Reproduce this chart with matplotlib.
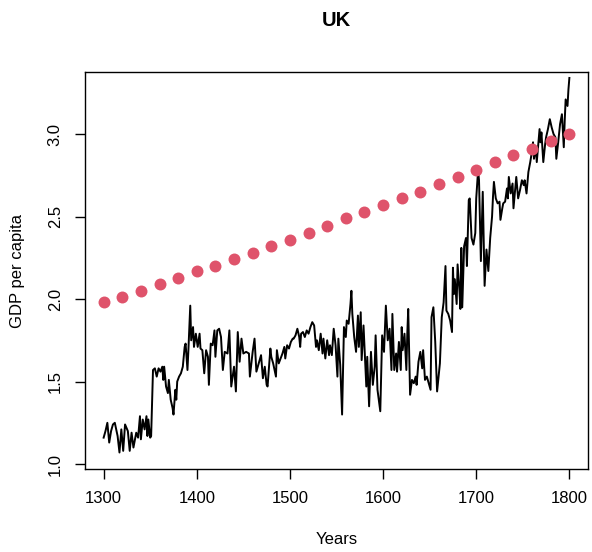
import matplotlib
matplotlib.use("Agg")
import matplotlib.pyplot as plt

# annual GDP per capita (irregular sampling of peaks/troughs)
years = [
    1300, 1302, 1304, 1306, 1308, 1310, 1312, 1315, 1317, 1319, 1321, 1323, 1326, 1328,
    1330, 1332, 1335, 1337, 1339, 1340, 1342, 1344, 1346, 1347, 1348, 1350, 1351, 1353,
    1355, 1357, 1359, 1361, 1363, 1364, 1365, 1367, 1369, 1370, 1372, 1374, 1375, 1377,
    1378, 1379, 1381, 1383, 1385, 1387, 1388, 1390, 1391, 1393, 1394, 1396, 1397, 1399,
    1401, 1403, 1404, 1406, 1408, 1410, 1412, 1413, 1415, 1417, 1419, 1420, 1422, 1424,
    1426, 1428, 1430, 1433, 1435, 1437, 1440, 1442, 1444, 1446, 1448, 1450, 1453, 1456,
    1457, 1460, 1462, 1464, 1467, 1469, 1471, 1473, 1475, 1476, 1479, 1480, 1482, 1485,
    1486, 1488, 1490, 1492, 1494, 1495, 1497, 1499, 1501, 1503, 1504, 1506, 1508, 1510,
    1511, 1512, 1514, 1516, 1518, 1520, 1522, 1524, 1526, 1528, 1529, 1531, 1533, 1535,
    1536, 1538, 1540, 1542, 1543, 1545, 1547, 1549, 1551, 1552, 1554, 1556, 1558, 1560,
    1561, 1563, 1565, 1566, 1567, 1569, 1571, 1573, 1574, 1576, 1577, 1579, 1582, 1583,
    1585, 1587, 1589, 1591, 1592, 1594, 1597, 1599, 1601, 1603, 1605, 1607, 1609, 1610,
    1612, 1614, 1615, 1617, 1619, 1620, 1621, 1623, 1625, 1626, 1627, 1629, 1631, 1633,
    1635, 1636, 1638, 1640, 1642, 1643, 1645, 1647, 1649, 1651, 1652, 1654, 1656, 1658,
    1661, 1663, 1665, 1667, 1668, 1670, 1672, 1674, 1675, 1676, 1677, 1679, 1680, 1682,
    1683, 1684, 1685, 1687, 1689, 1690, 1692, 1693, 1695, 1697, 1699, 1700, 1702, 1703,
    1705, 1707, 1709, 1711, 1713, 1715, 1717, 1718, 1719, 1721, 1723, 1725, 1726, 1728,
    1729, 1731, 1733, 1734, 1735, 1737, 1739, 1740, 1743, 1745, 1747, 1749, 1751, 1752,
    1754, 1756, 1758, 1760, 1761, 1762, 1764, 1765, 1768, 1769, 1770, 1772, 1774, 1775,
    1777, 1779, 1781, 1783, 1785, 1786, 1788, 1790, 1792, 1794, 1795, 1796, 1798, 1799,
    1800,
]
gdp = [
    1.16, 1.20, 1.25, 1.13, 1.20, 1.24, 1.25, 1.17, 1.07, 1.21, 1.08, 1.24, 1.20, 1.08,
    1.19, 1.10, 1.19, 1.16, 1.29, 1.15, 1.27, 1.21, 1.29, 1.17, 1.27, 1.16, 1.17, 1.57,
    1.58, 1.53, 1.58, 1.56, 1.59, 1.51, 1.59, 1.47, 1.43, 1.51, 1.39, 1.34, 1.30, 1.45,
    1.39, 1.50, 1.53, 1.55, 1.59, 1.71, 1.73, 1.57, 1.69, 1.96, 1.75, 1.83, 1.71, 1.79,
    1.71, 1.79, 1.70, 1.69, 1.55, 1.69, 1.65, 1.48, 1.73, 1.72, 1.81, 1.65, 1.81, 1.82,
    1.77, 1.57, 1.68, 1.67, 1.81, 1.47, 1.59, 1.44, 1.80, 1.62, 1.76, 1.67, 1.68, 1.67,
    1.53, 1.68, 1.76, 1.56, 1.62, 1.66, 1.52, 1.59, 1.48, 1.47, 1.70, 1.65, 1.61, 1.53,
    1.69, 1.61, 1.64, 1.67, 1.71, 1.64, 1.72, 1.70, 1.74, 1.76, 1.76, 1.78, 1.82, 1.77,
    1.71, 1.79, 1.80, 1.77, 1.81, 1.79, 1.83, 1.86, 1.84, 1.71, 1.75, 1.69, 1.79, 1.67,
    1.76, 1.64, 1.75, 1.66, 1.72, 1.66, 1.82, 1.72, 1.53, 1.76, 1.60, 1.30, 1.83, 1.77,
    1.87, 1.85, 1.97, 2.05, 1.91, 1.77, 1.68, 1.90, 1.71, 1.92, 1.63, 1.84, 1.47, 1.65,
    1.35, 1.68, 1.48, 1.59, 1.78, 1.45, 1.32, 1.78, 1.68, 1.96, 1.75, 1.82, 1.57, 1.91,
    1.57, 1.67, 1.56, 1.74, 1.57, 1.83, 1.69, 1.79, 1.57, 1.79, 1.94, 1.42, 1.51, 1.49,
    1.53, 1.48, 1.62, 1.68, 1.58, 1.69, 1.51, 1.53, 1.49, 1.45, 1.89, 1.95, 1.74, 1.44,
    1.61, 1.89, 1.98, 2.20, 1.93, 1.91, 1.87, 1.80, 2.19, 2.03, 2.12, 1.97, 2.21, 2.05,
    1.94, 2.31, 1.95, 2.32, 2.37, 2.20, 2.60, 2.61, 2.37, 2.33, 2.40, 2.61, 2.78, 2.72,
    2.23, 2.65, 2.08, 2.30, 2.17, 2.37, 2.50, 2.62, 2.71, 2.61, 2.58, 2.59, 2.48, 2.55,
    2.58, 2.59, 2.67, 2.61, 2.74, 2.64, 2.70, 2.55, 2.74, 2.61, 2.66, 2.72, 2.69, 2.72,
    2.64, 2.77, 2.83, 2.90, 2.95, 2.85, 2.92, 2.83, 3.03, 2.95, 3.01, 2.83, 2.94, 2.98,
    3.03, 3.09, 3.04, 3.00, 2.98, 2.85, 2.95, 3.06, 3.12, 2.92, 3.08, 3.21, 3.17, 3.27,
    3.34,
]

# red points every 20 years
dot_years = list(range(1300, 1801, 20))
dot_values = [
    1.98, 2.01, 2.05, 2.09, 2.13, 2.17, 2.20, 2.24, 2.28, 2.32, 2.36, 2.40, 2.44,
    2.49, 2.53, 2.57, 2.61, 2.65, 2.70, 2.74, 2.78, 2.83, 2.87, 2.91, 2.96, 3.00,
]

x_ticks = [1300, 1400, 1500, 1600, 1700, 1800]
y_ticks = [1.0, 1.5, 2.0, 2.5, 3.0]

plt.rcParams["font.family"] = ["Liberation Sans", "DejaVu Sans"]

W, H = 592, 552
fig = plt.figure(figsize=(W / 100, H / 100), dpi=100)
left, right, top, bottom = 85, 588, 72, 469
ax = fig.add_axes([left / W, 1 - bottom / H, (right - left) / W, (bottom - top) / H])

ax.plot(years, gdp, color="black", linewidth=1.4)
ax.plot(dot_years, dot_values, "o", color="#DF536B", markersize=8.6, markeredgewidth=0)

ax.set_xlim(1280, 1820)
ax.set_ylim(0.97, 3.376)
ax.set_xticks(x_ticks)
ax.set_xticklabels([str(t) for t in x_ticks])
ax.set_yticks(y_ticks)
ax.set_yticklabels([f"{t:.1f}" for t in y_ticks], rotation=90, va="center")

for s in ax.spines.values():
    s.set_linewidth(1.0)
    s.set_color("black")
ax.tick_params(axis="both", direction="out", length=7, width=1.0, labelsize=12)
ax.tick_params(axis="x", pad=9)
ax.tick_params(axis="y", pad=9)

ax.set_xlabel("Years", fontsize=12)
ax.xaxis.label.set_va("center")
ax.xaxis.set_label_coords(0.5, (bottom - 540) / (bottom - top))
ax.set_ylabel("GDP per capita", fontsize=12)
ax.yaxis.label.set_va("center")
ax.yaxis.set_label_coords((18 - left) / (right - left), 0.5)

fig.text((left + right) / 2 / W, 1 - 21 / H, "UK", ha="center", va="center",
         fontsize=14.5, fontweight="bold")

fig.savefig("out.png", dpi=100, facecolor="white")
